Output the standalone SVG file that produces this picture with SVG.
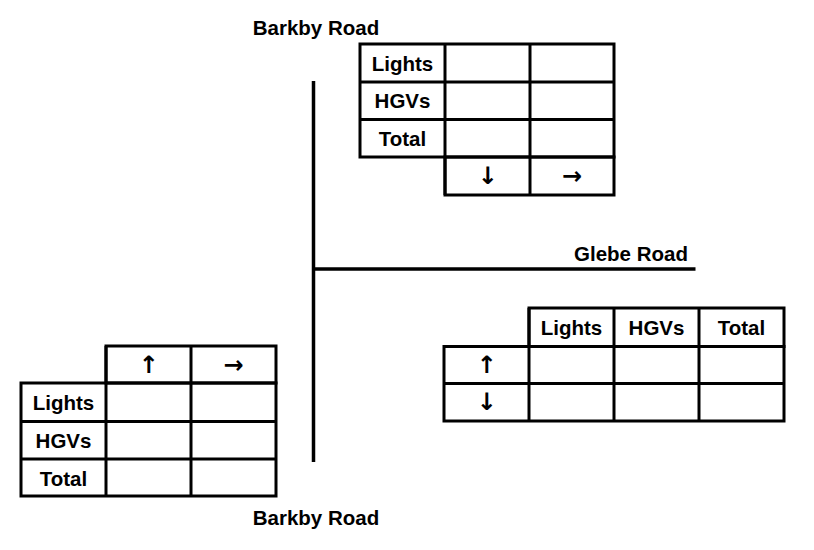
<svg xmlns="http://www.w3.org/2000/svg" width="814" height="550" viewBox="0 0 814 550">
<style>
  .bg { fill: #ffffff; }
  .road { stroke: #000; stroke-width: 3.5; fill: none; }
  .grid { stroke: #000; stroke-width: 3; fill: none; }
  .lbl { font-family: "Liberation Sans", Arial, sans-serif; font-weight: bold; font-size: 20.5px; fill: #000; text-anchor: middle; }
  .arr { font-family: "DejaVu Sans", sans-serif; font-weight: bold; font-size: 24px; fill: #000; text-anchor: middle; dominant-baseline: central; }
</style>
<rect class="bg" x="0" y="0" width="814" height="550"/>

<g id="connectors">
  <line class="road" x1="313.5" y1="81" x2="313.5" y2="462"/>
  <line class="road" x1="313.5" y1="269" x2="695.5" y2="269"/>
</g>

<g id="label-barkby-north">
  <text class="lbl" x="316" y="35">Barkby Road</text>
</g>
<g id="label-barkby-south">
  <text class="lbl" x="316" y="525">Barkby Road</text>
</g>
<g id="label-glebe">
  <text class="lbl" x="631" y="261">Glebe Road</text>
</g>

<g id="table-north">
  <rect class="grid" x="360" y="44" width="254" height="113"/>
  <rect class="grid" x="445" y="157" width="169" height="38"/>
  <line class="grid" x1="445" y1="44" x2="445" y2="195"/>
  <line class="grid" x1="530" y1="44" x2="530" y2="195"/>
  <line class="grid" x1="360" y1="82" x2="614" y2="82"/>
  <line class="grid" x1="360" y1="119.5" x2="614" y2="119.5"/>
  <text class="lbl" x="402.5" y="70.5">Lights</text>
  <text class="lbl" x="402.5" y="108">HGVs</text>
  <text class="lbl" x="402.5" y="145.5">Total</text>
  <text class="arr" x="487.5" y="176">↓</text>
  <text class="arr" x="572" y="176">→</text>
</g>

<g id="table-east">
  <rect class="grid" x="529" y="308" width="255" height="38.5"/>
  <rect class="grid" x="444" y="346.5" width="340" height="74.5"/>
  <line class="grid" x1="529" y1="308" x2="529" y2="421"/>
  <line class="grid" x1="614" y1="308" x2="614" y2="421"/>
  <line class="grid" x1="699" y1="308" x2="699" y2="421"/>
  <line class="grid" x1="444" y1="383.5" x2="784" y2="383.5"/>
  <text class="lbl" x="571.5" y="335">Lights</text>
  <text class="lbl" x="656.5" y="335">HGVs</text>
  <text class="lbl" x="741.5" y="335">Total</text>
  <text class="arr" x="486.5" y="365">↑</text>
  <text class="arr" x="486.5" y="402">↓</text>
</g>

<g id="table-south">
  <rect class="grid" x="106" y="346" width="170" height="37"/>
  <rect class="grid" x="21" y="383" width="255" height="113"/>
  <line class="grid" x1="106" y1="346" x2="106" y2="496"/>
  <line class="grid" x1="191" y1="346" x2="191" y2="496"/>
  <line class="grid" x1="21" y1="421.5" x2="276" y2="421.5"/>
  <line class="grid" x1="21" y1="459" x2="276" y2="459"/>
  <text class="arr" x="148.5" y="364.5">↑</text>
  <text class="arr" x="233.5" y="364.5">→</text>
  <text class="lbl" x="63.5" y="410">Lights</text>
  <text class="lbl" x="63.5" y="448">HGVs</text>
  <text class="lbl" x="63.5" y="485.5">Total</text>
</g>
</svg>
